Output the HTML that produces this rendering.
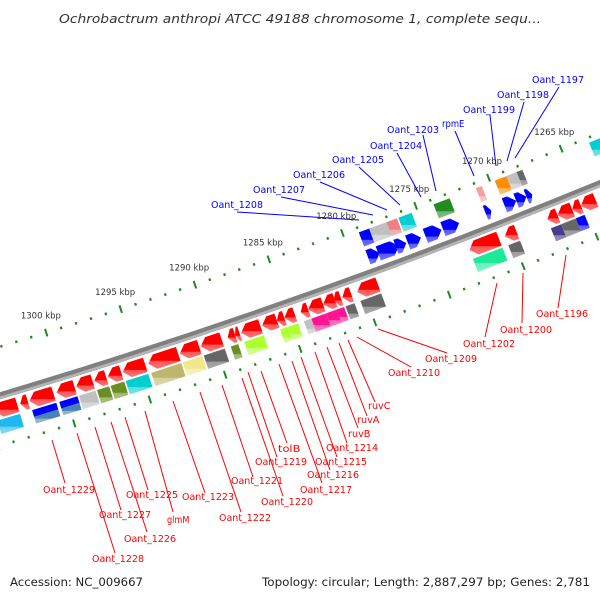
<!DOCTYPE html>
<html><head><meta charset="utf-8"><title>Ochrobactrum anthropi map</title>
<style>
html,body{margin:0;padding:0;background:#fff;}
svg{display:block;}
.lbl{font-family:"DejaVu Sans","Liberation Sans",sans-serif;font-size:9.5px;}
</style></head>
<body>
<svg id="map" width="600" height="600" viewBox="0 0 600 600" xmlns="http://www.w3.org/2000/svg">
<defs id="defs"></defs>
<text x="300" y="23" text-anchor="middle" font-family="DejaVu Sans, Liberation Sans, sans-serif" font-style="italic" font-size="12.5" fill="#333" textLength="482" lengthAdjust="spacingAndGlyphs">Ochrobactrum anthropi ATCC 49188 chromosome 1, complete sequ...</text>
<g id="ticks"></g>
<g id="backbone"></g>
<g id="genes"></g>
<g id="labels"></g>
<text x="10" y="586" font-family="DejaVu Sans, Liberation Sans, sans-serif" font-size="11.5" fill="#222" textLength="133" lengthAdjust="spacingAndGlyphs">Accession: NC_009667</text>
<text x="262" y="586" font-family="DejaVu Sans, Liberation Sans, sans-serif" font-size="11.5" fill="#222" textLength="328" lengthAdjust="spacingAndGlyphs">Topology: circular; Length: 2,887,297 bp; Genes: 2,781</text>
</svg>
<script>
// ---- data (kbp) ----
const redStart = [1303.1,1302.4,1300.7,1299.3,1298.1,1297.2,1296.2,1294.6,1292.4,1291.0,1289.5,1288.6,1288.3,1286.9,1285.8,1285.3,1284.6,1283.7,1282.7,1281.9,1281.5,1280.8,1279.0,1270.8,1269.6,1266.8,1265.8,1265.2,1264.2];
const redEnd   = [1304.6,1302.9,1302.3,1300.5,1299.2,1298.0,1297.1,1296.1,1294.4,1292.3,1290.9,1289.1,1288.6,1288.2,1286.8,1285.8,1285.3,1284.2,1283.7,1282.7,1282.0,1281.4,1280.4,1272.8,1270.4,1267.5,1266.8,1265.8,1265.2];
const redCog   = ["#20b8f0",null,"#0000ff","#0000ff","#c0c0c0","#6b8e23","#6b8e23","#00ced1","#bdb76b","#f0e68c","#666666","#6b8e23",null,"#adff2f",null,"#adff2f","#adff2f","#c0c0c0","#ff1493","#ff1493","#ff1493","#666666","#666666","#1ee89a","#666666","#483d8b","#666666","#0000ff",null];
const redCog2  = [null,null,"#4682b4","#4682b4",null,null,null,null,null,null,null,null,null,null,null,null,null,null,null,null,null,null,null,null,null,null,null,null,null];
const blueStart = [1278.2,1276.9,1276.4,1275.4,1274.0,1272.8,1270.6,1268.9,1268.2,1267.8,1262.3];
const blueEnd   = [1279.0,1278.3,1277.1,1276.3,1275.1,1273.9,1271.0,1269.7,1268.9,1268.2,1263.2];
const blueCds   = ["#0000ff","#0000ff","#0000ff","#0000ff","#0000ff","#0000ff","#0000ff","#0000ff","#0000ff","#0000ff",null];
const blueCog   = ["#0000ff","#c0c0c0","#f08080","#00ced1",null,"#228b22","#f4a0a0","#ff8c00","#c0c0c0","#666666","#00ced1"];
const tickLabels = [1265,1270,1275,1280,1285,1290,1295,1300];
const tickMin = 1258, tickMax = 1308;

// ---- labels (text, x, baseline y, line from, line to) ----
const blueLabels = [
 ["Oant_1197",532,83,559,87,515,158],["Oant_1198",497,98,524,102,507,161],
 ["Oant_1199",463,113,490,115,496,166],["rpmE",442,127,455,131,474,176],
 ["Oant_1203",387,133,423,135,436,191],["Oant_1204",370,149,397,153,421,197],
 ["Oant_1205",332,163,359,167,400,205],["Oant_1206",293,178,320,182,387,210],
 ["Oant_1207",253,193,281,197,373,215],["Oant_1208",211,208,237,212,359,220]];
const redLabels = [
 ["Oant_1229",43,493,65,483,52,440],["Oant_1227",99,518,121,510,95,427],
 ["Oant_1228",92,562,115,553,77,433],["Oant_1226",124,542,147,532,111,422],
 ["Oant_1225",126,498,148,490,125,417],["glmM",167,523,173,512,145,411],
 ["Oant_1223",182,500,205,493,173,401],["Oant_1222",219,521,241,512,200,392],
 ["Oant_1221",231,484,253,477,222,385],["Oant_1220",261,505,283,496,242,378],
 ["Oant_1219",255,465,277,457,248,372],["tolB",278,452,287,443,261,371],
 ["Oant_1217",300,493,322,483,279,364],["Oant_1216",307,478,330,470,292,361],
 ["Oant_1215",315,465,337,457,301,357],["Oant_1214",326,451,347,443,315,352],
 ["ruvB",348,437,358,428,327,347],["ruvA",357,423,367,416,339,343],
 ["ruvC",368,409,375,402,348,340],["Oant_1210",388,376,411,367,357,337],
 ["Oant_1209",425,362,447,353,378,329],["Oant_1202",463,347,485,337,497,283],
 ["Oant_1200",500,333,522,323,523,273],["Oant_1196",536,317,558,308,566,255]];

// ---- geometry ----
const CX=-1800, CY=-5650;
const R_BACK=6308, R_RC1=6314, R_RC2=6329, R_RG1=6331, R_RG2=6345,
      R_BC1=6285, R_BC2=6300, R_BG1=6266, R_BG2=6281, R_TI=6261, R_TO=6356, R_TL=6243;
function ang(k){ return (71.42 + (k-1290)*0.143) * Math.PI/180; }
function P(k,r){ const a=ang(k); return [CX + r*Math.cos(a), CY + r*Math.sin(a)]; }
const NS="http://www.w3.org/2000/svg";
function mk(tag, parent){ const e=document.createElementNS(NS,tag); parent.appendChild(e); return e; }
const defs=document.getElementById('defs');
const gradCache={};
function lighten(hex,f){
  const n=parseInt(hex.slice(1),16); let r=n>>16,g=(n>>8)&255,b=n&255;
  r=Math.round(r+(255-r)*f); g=Math.round(g+(255-g)*f); b=Math.round(b+(255-b)*f);
  return "rgb("+r+","+g+","+b+")";
}
function grad(color){
  if(gradCache[color]) return gradCache[color];
  const id="g"+color.slice(1);
  const lg=mk('linearGradient',defs); lg.setAttribute('id',id);
  lg.setAttribute('x1','0');lg.setAttribute('y1','0');lg.setAttribute('x2','0');lg.setAttribute('y2','1');
  const stops=[[0,lighten(color,0.15)],[0.12,color],[0.62,color],[0.66,lighten(color,0.35)],[1,lighten(color,0.45)]];
  stops.forEach(s=>{const st=mk('stop',lg);st.setAttribute('offset',s[0]);st.setAttribute('stop-color',s[1]);});
  gradCache[color]="url(#"+id+")"; return gradCache[color];
}
function pts(arr){ return arr.map(p=>p[0].toFixed(2)+","+p[1].toFixed(2)).join(" "); }
function boxPts(s,e,r1,r2){ return [P(s,r1),P(e,r1),P(e,r2),P(s,r2)]; }

// ---- ticks ----
const tg=document.getElementById('ticks');
[R_TI,R_TO].forEach(function(r){
  for(let k=tickMin;k<=tickMax;k++){
    const major=(k%5===0);
    const h=major?4:1.3;
    const a=P(k,r-h), b=P(k,r+h);
    const ln=mk('line',tg);
    
    
    ln.setAttribute('x1',a[0]);ln.setAttribute('y1',a[1]);ln.setAttribute('x2',b[0]);ln.setAttribute('y2',b[1]);
    ln.setAttribute('stroke','#1e8a1e');ln.setAttribute('stroke-width',major?2:2.2);
  }
});
tickLabels.forEach(function(k){
  const p=P(k,R_TL);
  const t=mk('text',tg);
  
  
  t.setAttribute('x',p[0]);t.setAttribute('y',p[1]+3);
  t.setAttribute('text-anchor','middle');t.setAttribute('font-family','DejaVu Sans, Liberation Sans, sans-serif');
  t.setAttribute('font-size','8.5');t.setAttribute('fill','#333');
  t.textContent=k+" kbp";
});

// ---- backbone ----
const bg=document.getElementById('backbone');
function arcPath(r){ const a=P(tickMin,r), b=P(tickMax,r); return "M"+a[0]+","+a[1]+" A"+r+","+r+" 0 0 1 "+b[0]+","+b[1]; }
const bb1=mk('path',bg);


bb1.setAttribute('d',arcPath(R_BACK));bb1.setAttribute('fill','none');bb1.setAttribute('stroke','#808080');bb1.setAttribute('stroke-width','7');
const bb2=mk('path',bg);


bb2.setAttribute('d',arcPath(R_BACK+2));bb2.setAttribute('fill','none');bb2.setAttribute('stroke','#b5b5b5');bb2.setAttribute('stroke-width','2.5');

// ---- genes ----
const gg=document.getElementById('genes');
function arrow(s,e,r1,r2,tipHigh){
  const hl=Math.min(0.45,(e-s)*0.6), rm=(r1+r2)/2;
  if(tipHigh) return [P(s,r1),P(e-hl,r1),P(e,rm),P(e-hl,r2),P(s,r2)];
  return [P(s+hl,r1),P(e,r1),P(e,r2),P(s+hl,r2),P(s,rm)];
}
for(let i=0;i<redStart.length;i++){
  const pg=mk('polygon',gg);
  
  
  pg.setAttribute('points',pts(arrow(redStart[i],redEnd[i],R_RC1,R_RC2,true)));
  pg.setAttribute('fill',grad('#ff0000'));
  if(redCog[i]){
    if(redCog2[i]){
      const mid=(R_RG1+R_RG2)/2;
      const b1=mk('polygon',gg);
      
      
      b1.setAttribute('points',pts(boxPts(redStart[i],redEnd[i],R_RG1,mid)));b1.setAttribute('fill',redCog[i]);
      const b2=mk('polygon',gg);
      
      
      b2.setAttribute('points',pts(boxPts(redStart[i],redEnd[i],mid,R_RG2)));b2.setAttribute('fill',grad(redCog2[i]));
    } else {
      const b=mk('polygon',gg);
      
      
      b.setAttribute('points',pts(boxPts(redStart[i],redEnd[i],R_RG1,R_RG2)));b.setAttribute('fill',grad(redCog[i]));
    }
  }
}
for(let i=0;i<blueStart.length;i++){
  if(blueCds[i]){
    const pg=mk('polygon',gg);
    
    
    pg.setAttribute('points',pts(arrow(blueStart[i],blueEnd[i],R_BC1,R_BC2,false)));
    pg.setAttribute('fill',grad(blueCds[i]));
  }
  if(blueCog[i]){
    const b=mk('polygon',gg);
    
    
    b.setAttribute('points',pts(boxPts(blueStart[i],blueEnd[i],R_BG1,R_BG2)));b.setAttribute('fill',grad(blueCog[i]));
  }
}

// ---- labels ----
const lg=document.getElementById('labels');
function addLabels(list,color,nm){
  list.forEach(function(L){
    const ln=mk('line',lg);
    
    
    ln.setAttribute('x1',L[3]);ln.setAttribute('y1',L[4]);ln.setAttribute('x2',L[5]);ln.setAttribute('y2',L[6]);
    ln.setAttribute('stroke',color);ln.setAttribute('stroke-width','1');
    const t=mk('text',lg);
    
    
    t.setAttribute('x',L[1]);t.setAttribute('y',L[2]);t.setAttribute('fill',color);
    t.setAttribute('class','lbl');
    const w=L[0].length>5?52:(L[0].length*5.6);
    t.setAttribute('textLength',w);t.setAttribute('lengthAdjust','spacingAndGlyphs');
    t.textContent=L[0];
  });
}
addLabels(blueLabels,'#0000ff','forward-gene');
addLabels(redLabels,'#ff0000','reverse-gene');
</script>
</body></html>
